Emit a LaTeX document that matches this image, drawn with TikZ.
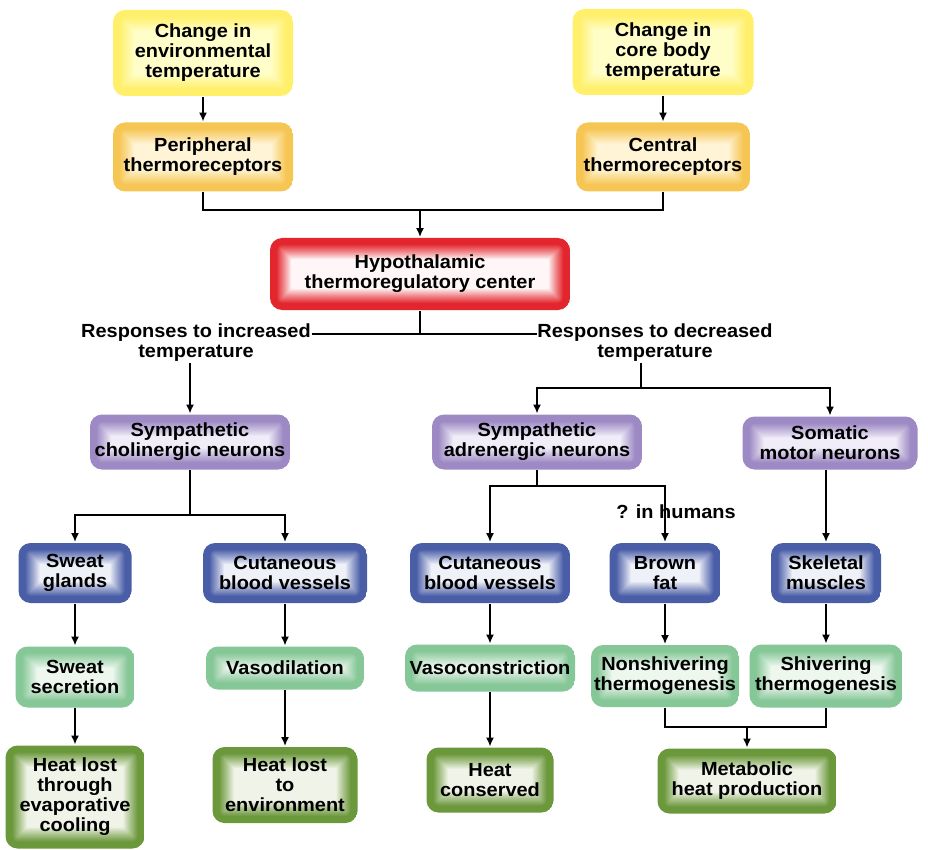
\documentclass[tikz,border=0pt]{standalone}
\usepackage{fontspec}
\setmainfont{Liberation Sans}[FakeStretch=1.05]
\usetikzlibrary{arrows.meta}

\definecolor{yellowIn}{HTML}{FFFFCC}
\definecolor{yellowC}{HTML}{FFEF6A}
\definecolor{orangeIn}{HTML}{FFF6DA}
\definecolor{orangeC}{HTML}{F6C654}
\definecolor{redIn}{HTML}{FFFFFF}
\definecolor{redC}{HTML}{E3262D}
\definecolor{purpleIn}{HTML}{F4F1FA}
\definecolor{purpleC}{HTML}{9D89C4}
\definecolor{blueIn}{HTML}{F6F7FC}
\definecolor{blueC}{HTML}{4A5EA8}
\definecolor{lgreenIn}{HTML}{F1F9F2}
\definecolor{lgreenC}{HTML}{86C797}
\definecolor{dgreenIn}{HTML}{F6F8EF}
\definecolor{dgreenC}{HTML}{6B983B}

\tikzset{
  box/.style={rounded corners=12pt, align=center, inner sep=3pt,
    font=\bfseries\fontsize{19}{20}\selectfont},
  % coloured rim fading into a pale middle
  glowbox/.style 2 args={box, path picture={
    \foreach \i in {0,...,21}{
      \pgfmathtruncatemacro\p{min(100,100*((21.5-\i)/15.5)^0.9)}
      \pgfmathsetmacro\r{max(12-\i,1)}
      \fill[#1!\p!#2, rounded corners=\r pt]
        ([xshift=\i pt, yshift=\i pt]path picture bounding box.south west)
        rectangle ([xshift=-\i pt, yshift=-\i pt]path picture bounding box.north east);
    }}},
  boxsize/.style 2 args={minimum width=#1pt, minimum height=#2pt},
  stimbox/.style={glowbox={yellowC}{yellowIn}},
  sensbox/.style={glowbox={orangeC}{orangeIn}},
  centerbox/.style={glowbox={redC}{redIn}},
  nervebox/.style={glowbox={purpleC}{purpleIn}},
  organbox/.style={glowbox={blueC}{blueIn}},
  actbox/.style={glowbox={lgreenC}{lgreenIn}},
  endbox/.style={glowbox={dgreenC}{dgreenIn}},
  resptext/.style={align=center, inner sep=0pt, font=\bfseries\fontsize{19}{20}\selectfont}
}

\begin{document}
\begin{tikzpicture}[x=1pt, y=-1pt, line width=1.8pt, >={Latex[length=9pt,width=8pt]}]
  \useasboundingbox (0,0) rectangle (928,850);

  % inputs
  \node[stimbox, boxsize={180}{86}] (envchange) at (203,53) {Change in\\environmental\\temperature};
  \node[stimbox, boxsize={181}{86}] (corechange) at (663,52) {Change in\\core body\\temperature};
  \node[sensbox, boxsize={180}{69}] (periph) at (203,157) {Peripheral\\thermoreceptors};
  \node[sensbox, boxsize={174}{69}] (central) at (663,157) {Central\\thermoreceptors};
  \node[centerbox, boxsize={300}{72}] (hypo) at (420,274) {Hypothalamic\\thermoregulatory center};

  \draw[->] (envchange) -- (periph);
  \draw[->] (corechange) -- (central);
  \coordinate (topjoin) at (420,210);
  \draw (periph.south) |- (topjoin) -| (central.south);
  \draw[->] (topjoin) -- (hypo.north);

  % two kinds of response
  \node[resptext] (inctext) at (196,343) {Responses to increased\\temperature};
  \node[resptext] (dectext) at (655,343) {Responses to decreased\\temperature};
  \coordinate (split) at (420,334);
  \draw (hypo.south) -- (split);
  \draw (inctext.east |- split) -- (dectext.west |- split);

  % neurons
  \node[nervebox, boxsize={200}{55}] (cholin) at (190,442) {Sympathetic\\cholinergic neurons};
  \node[nervebox, boxsize={210}{55}] (adren) at (537,442) {Sympathetic\\adrenergic neurons};
  \node[nervebox, boxsize={175}{53}] (somatic) at (830,443) {Somatic\\motor neurons};

  \draw[->] (inctext.south -| cholin.north) -- (cholin.north);
  \coordinate (decsplit) at (641,388);
  \draw (decsplit |- dectext.south) -- (decsplit);
  \draw[->] (decsplit) -| (adren.north);
  \draw[->] (decsplit) -| (somatic.north);

  % effectors
  \node[organbox, boxsize={113}{60}] (sweatgl) at (75,573) {Sweat\\glands};
  \node[organbox, boxsize={164}{60}] (cutleft) at (285,573) {Cutaneous\\blood vessels};
  \node[organbox, boxsize={160}{60}] (cutright) at (490,573) {Cutaneous\\blood vessels};
  \node[organbox, boxsize={111}{60}] (brownfat) at (665,573) {Brown\\fat};
  \node[organbox, boxsize={110}{60}] (skeletal) at (826,573) {Skeletal\\muscles};

  \coordinate (cholsplit) at (190,515);
  \draw (cholin.south) -- (cholsplit);
  \draw[->] (cholsplit) -| (sweatgl.north);
  \draw[->] (cholsplit) -| (cutleft.north);

  \node[resptext] (humans) at (676,512) {? in humans};
  \coordinate (adrsplit) at (537,486);
  \draw (adren.south) -- (adrsplit);
  \draw[->] (adrsplit) -| (cutright.north);
  \draw[->] (adrsplit) -| (brownfat.north);
  \draw[->] (somatic.south -| skeletal.north) -- (skeletal.north);

  % responses
  \node[actbox, boxsize={119}{61}] (sweatsec) at (75,677) {Sweat\\secretion};
  \node[actbox, boxsize={158}{43}] (vasodil) at (285,668) {Vasodilation};
  \node[actbox, boxsize={170}{47}] (vasocon) at (490,668) {Vasoconstriction};
  \node[actbox, boxsize={148}{62}] (nonshiv) at (665,676) {Nonshivering\\thermogenesis};
  \node[actbox, boxsize={153}{63}] (shiv) at (826,676) {Shivering\\thermogenesis};

  % outcomes
  \node[endbox, boxsize={139}{103}] (evapcool) at (75,797) {Heat lost\\through\\evaporative\\cooling};
  \node[endbox, boxsize={145}{76}] (heatenv) at (285,785) {Heat lost\\to\\environment};
  \node[endbox, boxsize={127}{65}] (heatcons) at (490,780) {Heat\\conserved};
  \node[endbox, boxsize={179}{65}] (metab) at (747,781) {Metabolic\\heat production};

  \foreach \a/\b in {sweatgl/sweatsec, cutleft/vasodil, cutright/vasocon,
                     brownfat/nonshiv, skeletal/shiv, sweatsec/evapcool,
                     vasodil/heatenv, vasocon/heatcons}
    \draw[->] (\a.south) -- (\b.north);

  \coordinate (metjoin) at (747,727);
  \draw (nonshiv.south) |- (metjoin) -| (shiv.south);
  \draw[->] (metjoin) -- (metab.north);
\end{tikzpicture}
\end{document}
